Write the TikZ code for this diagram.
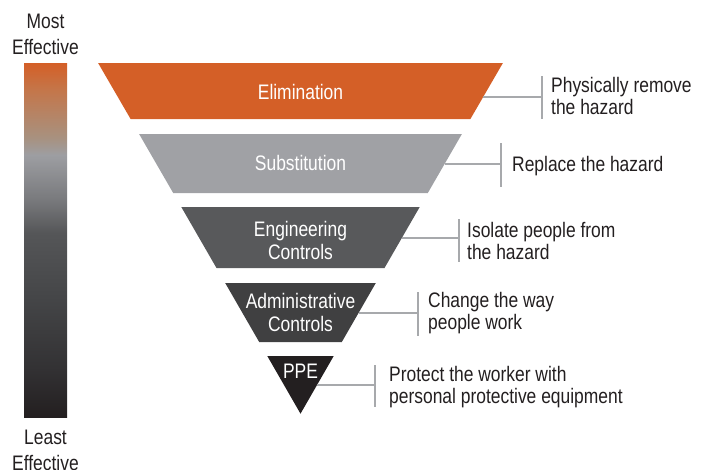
\documentclass[tikz,border=0pt]{standalone}
\usepackage{fontspec}
\setmainfont{Liberation Sans}[FakeStretch=0.83]
\definecolor{cElim}{HTML}{D45F27}
\definecolor{cSubs}{HTML}{A0A1A5}
\definecolor{cEng}{HTML}{58595B}
\definecolor{cAdm}{HTML}{404041}
\definecolor{cPPE}{HTML}{231F20}
\definecolor{cTxt}{HTML}{231F20}
\definecolor{cLine}{HTML}{A7A9AC}
\definecolor{g0}{HTML}{231F20}
\definecolor{g1}{HTML}{333234}
\definecolor{g2}{HTML}{444547}
\definecolor{g3}{HTML}{555658}
\definecolor{g4}{HTML}{78797C}
\definecolor{g5}{HTML}{9D9EA2}
\definecolor{g6}{HTML}{A8917F}
\definecolor{g7}{HTML}{C4764A}
\definecolor{g8}{HTML}{D45F27}
\pgfdeclareverticalshading{effbar}{100bp}{color(0bp)=(g0); color(25bp)=(g0); color(32.1bp)=(g1); color(41.5bp)=(g2); color(51bp)=(g3); color(55.6bp)=(g4); color(62bp)=(g5); color(64.5bp)=(g6); color(71.2bp)=(g7); color(75bp)=(g8); color(100bp)=(g8)}
\begin{document}
\begin{tikzpicture}[x=1pt,y=-1pt,
  txt/.style={font=\fontsize{21}{22}\selectfont, inner sep=0pt, text=cTxt},
  lefttxt/.style={txt, align=center, font=\fontsize{21}{25.7}\selectfont},
  intxt/.style={font=\fontsize{21}{22.7}\selectfont, inner sep=0pt, text=white, align=center, anchor=base},
  righttxt/.style={txt, align=left, anchor=base west},
  conn/.style={draw=cLine, line width=1.3pt}]
\useasboundingbox (0,0) rectangle (708,469);

% effectiveness bar
\node[inner sep=0pt, minimum width=43pt, minimum height=354pt, shading=effbar] (bar) at (45.5,240) {};
% multi-line nodes: base anchor = baseline of last line
\node[lefttxt, anchor=base] (most) at (45.5,54) {Most\\Effective};
\node[lefttxt, anchor=base] (least) at (45.5,470) {Least\\Effective};

% hierarchy bands (slices of one inverted equilateral triangle)
\fill[cElim] (98.1,63) -- (502.9,63) -- (470.4,119) -- (130.6,119) -- cycle;
\fill[cSubs] (139.1,134) -- (461.9,134) -- (427.8,193) -- (173.2,193) -- cycle;
\fill[cEng] (181.3,207) -- (419.7,207) -- (384.5,268) -- (216.5,268) -- cycle;
\fill[cAdm] (225.2,283) -- (375.8,283) -- (341.8,342) -- (259.2,342) -- cycle;
\fill[cPPE] (267.3,356) -- (333.7,356) -- (300.5,413.7) -- cycle;

\node[intxt] (elim) at (300.5,99) {Elimination};
\node[intxt] (subs) at (300.5,170.5) {Substitution};
\node[intxt] (eng) at (300.5,259.3) {Engineering\\Controls};
\node[intxt] (adm) at (300.5,331.5) {Administrative\\Controls};
\node[intxt] (ppe) at (300.5,378.3) {PPE};

% connectors
\coordinate (s1) at (483.2,97);  \coordinate (e1) at (542,97);
\coordinate (u1) at (542,76);    \coordinate (d1) at (542,119);
\coordinate (s2) at (444.5,164); \coordinate (e2) at (501,164);
\coordinate (u2) at (501,143);   \coordinate (d2) at (501,187);
\coordinate (s3) at (401.8,238); \coordinate (e3) at (459,238);
\coordinate (u3) at (459,219);   \coordinate (d3) at (459,262);
\coordinate (s4) at (358.5,313); \coordinate (e4) at (418,313);
\coordinate (u4) at (418,292);   \coordinate (d4) at (418,336);
\coordinate (s5) at (317,385);   \coordinate (e5) at (375,385);
\coordinate (u5) at (375,365);   \coordinate (d5) at (375,407);
\foreach \i in {1,...,5}{
  \draw[conn] (s\i) -- (e\i);
  \draw[conn] (u\i) -- (d\i);
}

% descriptions
\node[righttxt] (t1) at (551,114.3) {Physically remove\\the hazard};
\node[righttxt] (t2) at (512,171.5) {Replace the hazard};
\node[righttxt] (t3) at (467,259.3) {Isolate people from\\the hazard};
\node[righttxt] (t4) at (428,329.5) {Change the way\\people work};
\node[righttxt] (t5) at (389,403.3) {Protect the worker with\\personal protective equipment};
\end{tikzpicture}
\end{document}
